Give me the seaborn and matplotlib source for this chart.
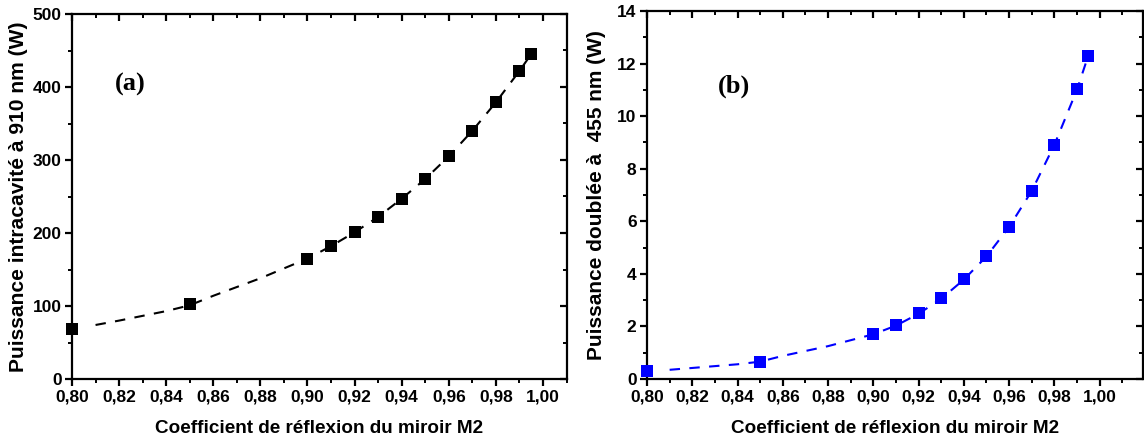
import numpy as np
import pandas as pd
import matplotlib
matplotlib.use("Agg")
import matplotlib.pyplot as plt
import seaborn as sns
from matplotlib.ticker import MultipleLocator, FuncFormatter

# ---- data ----
R = [0.80, 0.85, 0.90, 0.91, 0.92, 0.93, 0.94, 0.95, 0.96, 0.97, 0.98, 0.99, 0.995]
P_intra = [68, 103, 165, 182, 201, 222, 247, 274, 305, 340, 379, 422, 445]
P_blue = [0.30, 0.65, 1.70, 2.05, 2.50, 3.08, 3.80, 4.67, 5.80, 7.17, 8.90, 11.03, 12.30]

# fitted dashed curves
R_fit = [0.81, 0.82, 0.84, 0.85, 0.86, 0.88, 0.90, 0.91, 0.92, 0.93, 0.94, 0.95, 0.96, 0.97, 0.98, 0.99, 0.995]
P_intra_fit = [74, 80, 93, 101, 114, 138, 165, 182, 201, 222, 247, 274, 305, 340, 379, 422, 445]
P_blue_fit = [0.35, 0.42, 0.56, 0.66, 0.88, 1.25, 1.70, 2.03, 2.48, 3.05, 3.78, 4.66, 5.78, 7.15, 8.9, 11.0, 12.3]

xlabel = "Coefficient de réflexion du miroir M2"
ylabel_a = "Puissance intracavité à 910 nm (W)"
ylabel_b = "Puissance doublée à  455 nm (W)"

sns.set_theme(style="ticks")
plt.rcParams['font.family'] = ['Liberation Sans', 'DejaVu Sans']
plt.rcParams['font.weight'] = 'bold'
plt.rcParams['text.color'] = 'black'
plt.rcParams['axes.labelcolor'] = 'black'
plt.rcParams['xtick.color'] = 'black'
plt.rcParams['ytick.color'] = 'black'

W, H = 1144, 445
fig = plt.figure(figsize=(W / 100, H / 100), dpi=100)

def px_axes(l, r, t, b):
    return fig.add_axes([l / W, 1 - b / H, (r - l) / W, (b - t) / H])

ax_a = px_axes(72, 567, 14, 379)
ax_b = px_axes(647, 1143, 11, 379)

comma = FuncFormatter(lambda v, p: f"{v:.2f}".replace(".", ","))

def style(ax, xlim, ylim, ymaj, ymin):
    ax.set_xlim(*xlim)
    ax.set_ylim(*ylim)
    ax.xaxis.set_major_locator(MultipleLocator(0.02))
    ax.xaxis.set_minor_locator(MultipleLocator(0.01))
    ax.yaxis.set_major_locator(MultipleLocator(ymaj))
    ax.yaxis.set_minor_locator(MultipleLocator(ymin))
    ax.xaxis.set_major_formatter(comma)
    for s in ax.spines.values():
        s.set_visible(True)
        s.set_linewidth(1.6)
        s.set_color("black")
    ax.tick_params(which="major", direction="out", length=5, width=1.6,
                   labelsize=12.5, colors="black", pad=2.5)
    ax.tick_params(which="minor", direction="out", length=3, width=1.4)
    ax.tick_params(which="both", top=False, right=False)
    ax.set_xlabel(xlabel, fontsize=13.6, fontweight="bold", labelpad=11)
    for lab in ax.get_xticklabels() + ax.get_yticklabels():
        lab.set_fontweight("bold")

def mirror(ax):
    tx = ax.secondary_xaxis("top")
    tx.xaxis.set_major_locator(MultipleLocator(0.02))
    tx.xaxis.set_minor_locator(MultipleLocator(0.01))
    tx.tick_params(which="major", direction="in", length=5, width=1.6, labeltop=False, colors="black")
    tx.tick_params(which="minor", direction="in", length=3, width=1.4, colors="black")
    tx.spines["top"].set_visible(False)
    ry = ax.secondary_yaxis("right")
    ry.yaxis.set_major_locator(ax.yaxis.get_major_locator())
    ry.yaxis.set_minor_locator(ax.yaxis.get_minor_locator())
    ry.tick_params(which="major", direction="in", length=5, width=1.6, labelright=False, colors="black")
    ry.tick_params(which="minor", direction="in", length=3, width=1.4, colors="black")
    ry.spines["right"].set_visible(False)

def set_ylab(ax, text, xfrac, size):
    ax.set_ylabel(text, fontsize=size, fontweight="bold")
    ax.yaxis.set_label_coords(xfrac, 0.5)
    ax.yaxis.label.set_verticalalignment("center")

df_a = pd.DataFrame({"R": R, "P": P_intra})
df_af = pd.DataFrame({"R": R_fit, "P": P_intra_fit})
df_b = pd.DataFrame({"R": R, "P": P_blue})
df_bf = pd.DataFrame({"R": R_fit, "P": P_blue_fit})

serif = ["Liberation Serif", "DejaVu Serif"]

# Panel (a)
sns.lineplot(data=df_af, x="R", y="P", ax=ax_a, color="black", lw=1.5,
             linestyle=(0, (5, 4.5)), zorder=2)
sns.scatterplot(data=df_a, x="R", y="P", ax=ax_a, marker="s", s=72,
                color="black", edgecolor="black", linewidth=0, zorder=3, clip_on=False)
style(ax_a, (0.80, 1.0102), (0, 500), 100, 50)
set_ylab(ax_a, ylabel_a, (19 - 72) / 495, 15.1)
ax_a.text(0.087, 0.806, "(a)", transform=ax_a.transAxes, fontsize=19,
          fontweight="bold", family=serif, ha="left", va="center")
mirror(ax_a)

# Panel (b)
sns.lineplot(data=df_bf, x="R", y="P", ax=ax_b, color="#0000ff", lw=1.5,
             linestyle=(0, (5, 4.5)), zorder=2)
sns.scatterplot(data=df_b, x="R", y="P", ax=ax_b, marker="s", s=80,
                color="#0000ff", edgecolor="#0000ff", linewidth=0, zorder=3, clip_on=False)
style(ax_b, (0.80, 1.0192), (0, 14), 2, 1)
set_ylab(ax_b, ylabel_b, (597 - 647) / 496, 15.0)
ax_b.text(0.143, 0.796, "(b)", transform=ax_b.transAxes, fontsize=19,
          fontweight="bold", family=serif, ha="left", va="center")
mirror(ax_b)

fig.savefig("out.png", dpi=100)
